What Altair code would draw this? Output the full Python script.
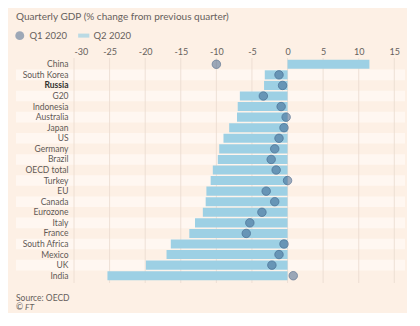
import altair as alt
import pandas as pd

countries = ["China", "South Korea", "Russia", "G20", "Indonesia", "Australia", "Japan",
             "US", "Germany", "Brazil", "OECD total", "Turkey", "EU", "Canada", "Eurozone",
             "Italy", "France", "South Africa", "Mexico", "UK", "India"]
q1_2020 = [-10.0, -1.2, -0.7, -3.4, -0.9, -0.2, -0.5, -1.2, -1.8, -2.3, -1.6, 0.0, -3.0,
           -1.8, -3.6, -5.3, -5.8, -0.5, -1.2, -2.2, 0.8]
q2_2020 = [11.5, -3.2, -3.3, -6.7, -7.0, -7.1, -8.2, -9.0, -9.6, -9.8, -10.5, -10.8, -11.4,
           -11.5, -11.9, -13.0, -13.8, -16.4, -17.0, -19.9, -25.3]
tick_values = [-30, -25, -20, -15, -10, -5, 0, 5, 10, 15]
series_names = ["Q1 2020", "Q2 2020"]

FONT = "Lato"
TEXT = "#66605c"
BG = "#fdf0e5"
STRIPE = "#fff7f1"
BAR = "#9dd0e4"
DOT = "rgba(38,78,126,0.64)"

W, H = 331, 222

q1_df = pd.DataFrame({"country": countries, "value": q1_2020, "series": series_names[0]})
q2_df = pd.DataFrame({"country": countries, "value": q2_2020, "series": series_names[1]})
stripe_df = pd.DataFrame({"country": [c for i, c in enumerate(countries) if i % 2 == 1]})
grid_df = pd.DataFrame({"value": tick_values})

xscale = alt.Scale(domain=[-30, 16.5], nice=False, zero=False)
yscale = alt.Scale(domain=countries, paddingInner=0, paddingOuter=0)
color_scale = alt.Scale(domain=series_names, range=[DOT, BAR])
shape_scale = alt.Scale(domain=series_names,
                        range=["circle", "M-1.25,-0.45L1.25,-0.45L1.25,0.45L-1.25,0.45Z"])

x_axis = alt.Axis(orient="top", values=tick_values, title=None, domain=False,
                  ticks=False, grid=False, labelPadding=3, labelFontSize=9,
                  labelColor=TEXT, labelFont=FONT, labelExpr="'' + datum.value",
                  zindex=1)
y_axis = alt.Axis(title=None, domain=False, ticks=False, labelPadding=6,
                  labelFontSize=8.5, labelFont=FONT,
                  labelColor=alt.expr("datum.value == 'Russia' ? '#33302e' : '#5f5955'"),
                  labelFontWeight=alt.expr("datum.value == 'Russia' ? 'bold' : 'normal'"),
                  zindex=1)
legend = alt.Legend(title=None, orient="none", legendX=-59, legendY=-28.5,
                    direction="horizontal", labelFont=FONT, labelFontSize=9.5,
                    labelColor=TEXT, symbolSize=80, symbolStrokeWidth=0,
                    columnPadding=10, labelOffset=5, padding=0)

panel = alt.Chart(alt.Data(values=[{}])).mark_rect(color=BG).encode(
    x=alt.value(-66), x2=alt.value(333), y=alt.value(-51), y2=alt.value(254)
)

stripes = alt.Chart(stripe_df).mark_rect(color=STRIPE).encode(
    y=alt.Y("country:N", scale=yscale, sort=countries, axis=y_axis),
    x=alt.value(-58), x2=alt.value(W),
)

grid = alt.Chart(grid_df).mark_rule(color="#eadbcf", strokeWidth=0.8).encode(
    x=alt.X("value:Q", scale=xscale, axis=x_axis),
    y=alt.value(-1), y2=alt.value(H + 2),
)

bars = alt.Chart(q2_df).mark_bar(height=alt.RelativeBandSize(0.86)).encode(
    x=alt.X("value:Q", scale=xscale, axis=x_axis),
    x2=alt.datum(0),
    y=alt.Y("country:N", scale=yscale, sort=countries, axis=y_axis),
    color=alt.Color("series:N", scale=color_scale, legend=legend),
)

points = alt.Chart(q1_df).mark_point(filled=True, size=72, stroke="#2f507a",
                                     strokeWidth=0.8).encode(
    x=alt.X("value:Q", scale=xscale, axis=x_axis),
    y=alt.Y("country:N", scale=yscale, sort=countries, axis=y_axis),
    color=alt.Color("series:N", scale=color_scale, legend=legend),
    shape=alt.Shape("series:N", scale=shape_scale, legend=legend),
)


def label(text, x, y, size=8.5, style="normal", color=TEXT):
    return alt.Chart(alt.Data(values=[{}])).mark_text(
        text=text, align="left", baseline="middle", font=FONT, fontSize=size,
        color=color, fontStyle=style
    ).encode(x=alt.value(x), y=alt.value(y))


title = label("Quarterly GDP (% change from previous quarter)", -58, -42, size=10)
source = label("Source: OECD", -58, 239)
copy1 = label("©", -58, 248)
copy2 = label("FT", -49, 248, style="italic")

chart = alt.layer(panel, stripes, grid, bars, points, title, source, copy1, copy2).properties(
    width=W, height=H,
    autosize=alt.AutoSizeParams(type="none"),
    padding={"left": 74, "top": 59, "right": 15, "bottom": 45},
).resolve_scale(
    color="shared", shape="shared"
).configure_view(stroke=None).configure(background="white")

chart.save("out.html", embed_options={"renderer": "svg", "actions": False})
